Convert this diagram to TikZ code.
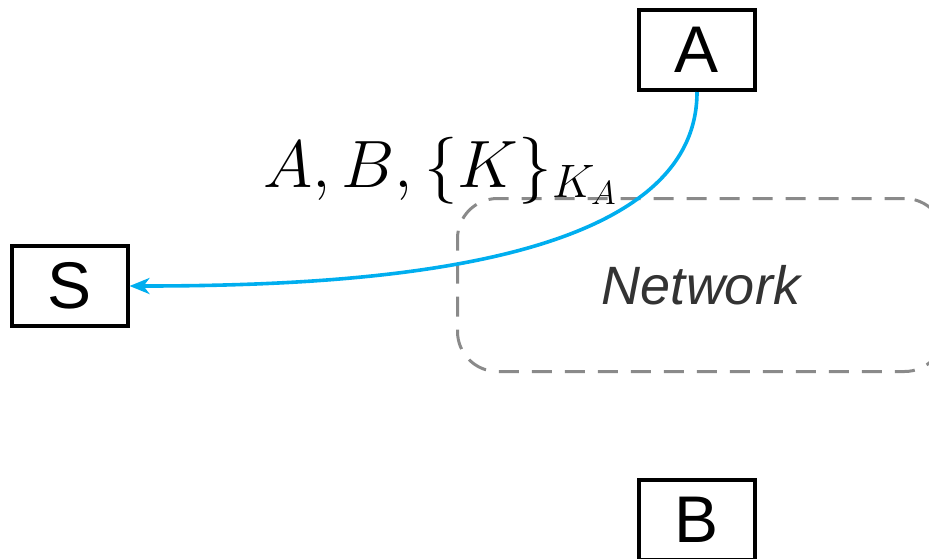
\RequirePackage{fix-cm}
\documentclass[tikz,border=0pt]{standalone}
\usepackage{fontspec}
\setsansfont{Liberation Sans}
\usetikzlibrary{arrows.meta}
\definecolor{msgBlue}{RGB}{0,174,239}
\definecolor{netGray}{RGB}{138,138,138}

\begin{document}
\begin{tikzpicture}[x=1pt,y=-1pt,
  party/.style={draw,line width=4pt,minimum width=116pt,minimum height=80pt,inner sep=0pt,font=\sffamily\fontsize{66}{70}\selectfont},
  netbox/.style={draw=netGray,line width=3pt,dash pattern=on 20pt off 13pt,rounded corners=40pt,minimum width=487pt,minimum height=173pt,text=black!80,font=\sffamily\itshape\fontsize{54}{60}\selectfont},
  msg/.style={draw=msgBlue,line width=3.6pt,-{Stealth[length=20pt,width=16pt,inset=6pt]}}]
\useasboundingbox (0,0) rectangle (929,558);
\clip (0,0) rectangle (929,558);
\node[netbox] (net) at (701,285) {Network};
\node[party] (A) at (697,50) {A};
\node[party] (S) at (69.5,286) {S};
\node[party] (B) at (697,520) {B};
\draw[msg] (A.south) .. controls +(0,178) and +(221,0) .. (S.east);
\node[anchor=base west,inner sep=0pt,font=\fontsize{67}{80}\selectfont] (msglabel) at (263,187) {$A, B, \{K\}_{K_A}$};
\end{tikzpicture}
\end{document}
